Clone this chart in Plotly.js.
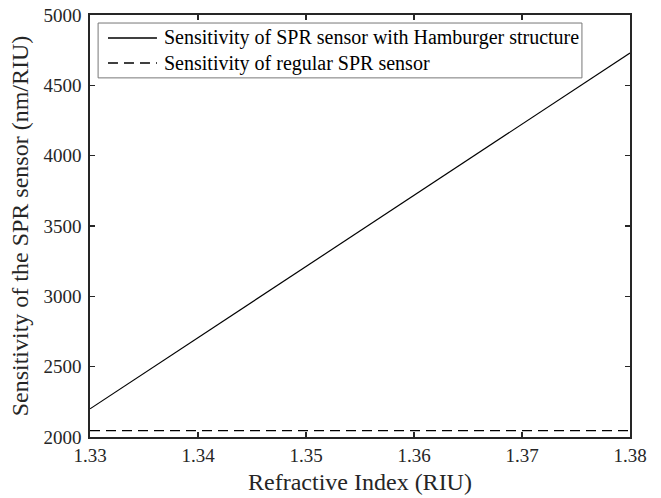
<!DOCTYPE html>
<html>
<head>
<meta charset="utf-8">
<script src="https://cdn.plot.ly/plotly-3.0.1.min.js"></script>
<style>
  html, body { margin: 0; padding: 0; background: #fff; }
  #chart { width: 661px; height: 498px; }
</style>
</head>
<body>
<div id="chart"></div>
<script>
// Refractive index of the analyte (RIU)
const refractiveIndex = [1.33, 1.38];
// Sensitivity with the Hamburger structure (nm/RIU)
const hamburgerSensitivity = [2200, 4730];
// Sensitivity of the regular SPR sensor (nm/RIU)
const regularSensitivity = [2045, 2045];

const seriesNames = [
  'Sensitivity of SPR sensor with Hamburger structure',
  'Sensitivity of regular SPR sensor'
];
const seriesDash = ['solid', '10px,6px'];

const xTicks = [1.33, 1.34, 1.35, 1.36, 1.37, 1.38];
const xTickLabels = ['1.33', '1.34', '1.35', '1.36', '1.37', '1.38'];
const yTicks = [2000, 2500, 3000, 3500, 4000, 4500, 5000];

const serif = 'Liberation Serif';
const ink = '#262626';

const traces = [
  {
    x: refractiveIndex, y: hamburgerSensitivity, name: seriesNames[0],
    type: 'scatter', mode: 'lines',
    line: { color: '#000', width: 1.2, dash: seriesDash[0] }
  },
  {
    x: refractiveIndex, y: regularSensitivity, name: seriesNames[1],
    type: 'scatter', mode: 'lines',
    line: { color: '#000', width: 1.2, dash: seriesDash[1] }
  }
];

// Boxed legend in the upper-left corner of the axes (paper coordinates)
const legendBox = { x0: 0.015, x1: 0.911, y0: 0.851, y1: 0.981 };
const legendRows = [0.9455, 0.886];
const legendShapes = [
  {
    type: 'rect', xref: 'paper', yref: 'paper',
    x0: legendBox.x0, x1: legendBox.x1, y0: legendBox.y0, y1: legendBox.y1,
    line: { color: '#777', width: 1 }, fillcolor: '#fff', layer: 'above'
  }
].concat(legendRows.map((ry, i) => ({
  type: 'line', xref: 'paper', yref: 'paper',
  x0: 0.0333, x1: 0.124, y0: ry, y1: ry,
  line: { color: '#000', width: 1.5, dash: seriesDash[i] }, layer: 'above'
})));
const legendLabels = legendRows.map((ry, i) => ({
  xref: 'paper', yref: 'paper', x: 0.133, y: ry,
  xanchor: 'left', yanchor: 'middle', showarrow: false,
  text: seriesNames[i],
  font: { family: serif, size: 20, color: '#000' }
}));

const axisCommon = {
  showgrid: false, zeroline: false,
  showline: true, linecolor: ink, linewidth: 1.6, mirror: 'ticks',
  ticks: 'inside', ticklen: 5, tickwidth: 1.3, tickcolor: ink,
  tickfont: { family: serif, size: 19, color: ink }
};

const layout = {
  width: 661, height: 498,
  margin: { l: 90, r: 31, t: 15, b: 61 },
  paper_bgcolor: '#fff', plot_bgcolor: '#fff',
  showlegend: false,
  shapes: legendShapes,
  annotations: legendLabels,
  xaxis: Object.assign({}, axisCommon, {
    range: [1.33, 1.38],
    tickvals: xTicks, ticktext: xTickLabels,
    ticklabelstandoff: 1,
    title: { text: 'Refractive Index (RIU)', font: { family: serif, size: 24, color: ink }, standoff: 8 }
  }),
  yaxis: Object.assign({}, axisCommon, {
    range: [2000, 5000],
    tickvals: yTicks,
    ticklabelstandoff: 3,
    title: { text: 'Sensitivity of the SPR sensor (nm/RIU)', font: { family: serif, size: 24, color: ink }, standoff: 8 }
  })
};

Plotly.newPlot('chart', traces, layout, { displayModeBar: false, staticPlot: true });
</script>
</body>
</html>
